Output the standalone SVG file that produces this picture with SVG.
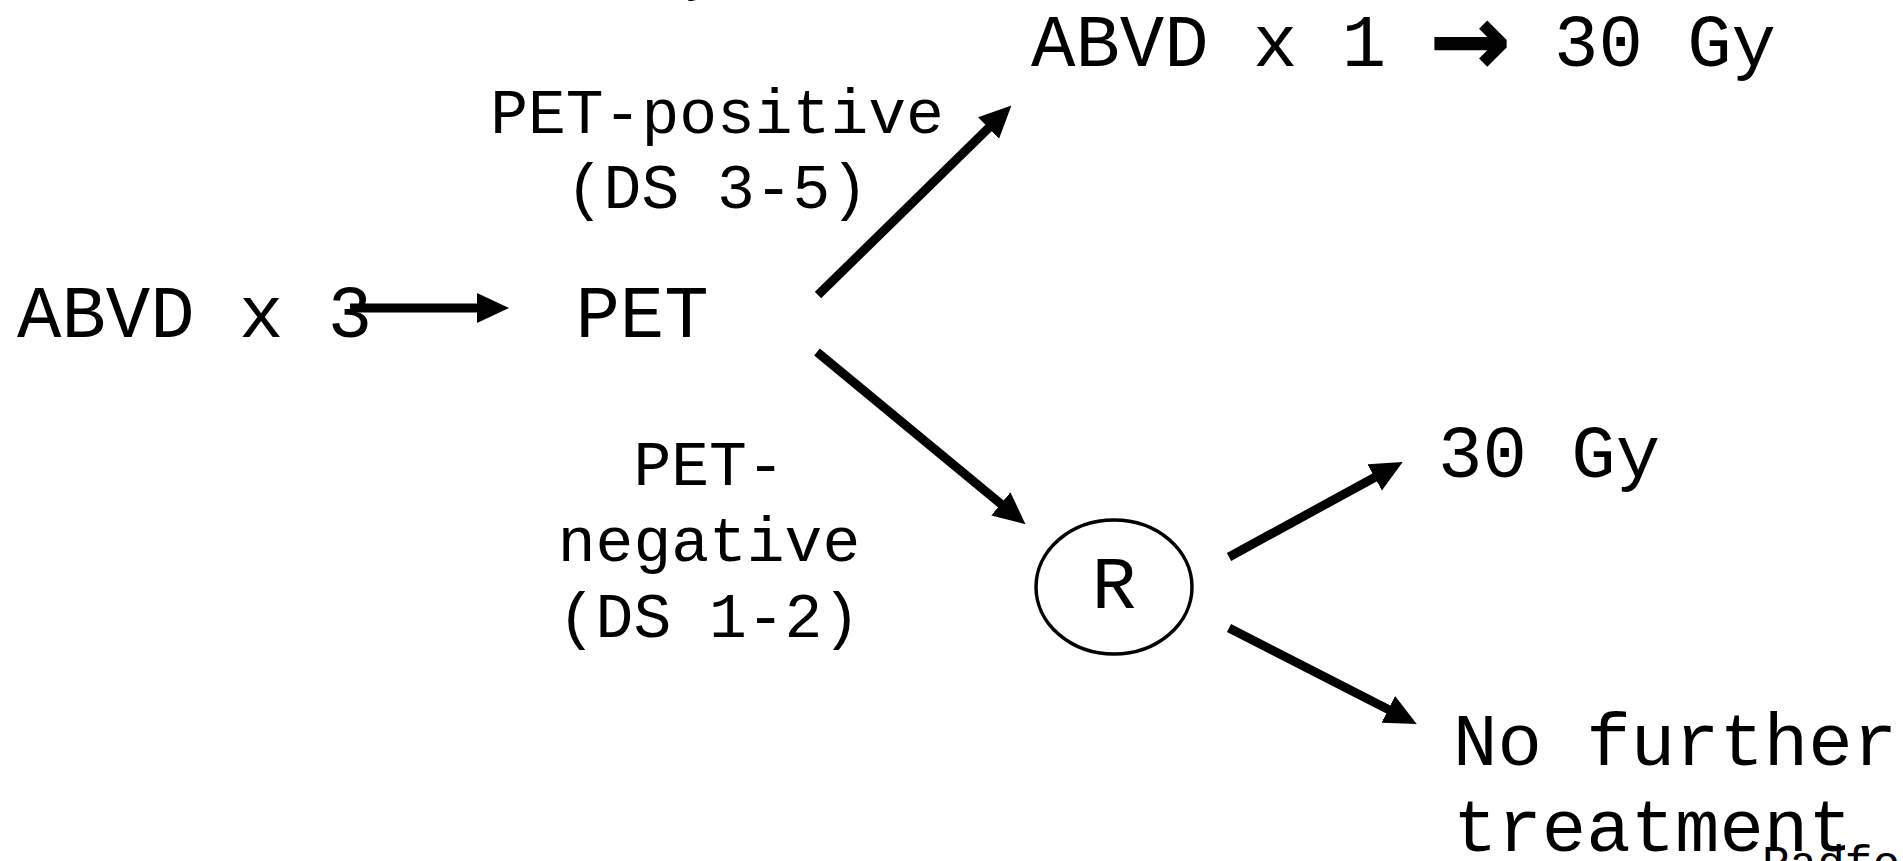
<svg xmlns="http://www.w3.org/2000/svg" width="1903" height="861" viewBox="0 0 1903 861">
  <style>
    .main { font-family: "Liberation Mono", "Courier New", monospace; font-size: 74px; fill: #000; }
    .lbl { font-family: "Liberation Mono", "Courier New", monospace; font-size: 63px; fill: #000; }
    .cite { font-family: "Liberation Mono", "Courier New", monospace; font-size: 46px; fill: #000; }
    .edge { stroke: #000; stroke-width: 9; fill: none; marker-end: url(#head); }
  </style>
  <defs>
    <marker id="head" viewBox="0 0 32 30" refX="15" refY="15" markerWidth="32" markerHeight="30" markerUnits="userSpaceOnUse" orient="auto">
      <path d="M0,0 L32,15 L0,30 Z" fill="#000"/>
    </marker>
  </defs>

  <rect width="1903" height="861" fill="#fff"/>

  <!-- cut-off heading glyph at the top edge -->
  <text class="lbl" x="683" y="-12">y</text>

  <g id="start">
    <text class="main" x="17" y="337">ABVD x 3</text>
  </g>

  <g id="pet">
    <text class="main" x="642" y="337" text-anchor="middle">PET</text>
  </g>

  <g id="pet-positive-label">
    <text class="lbl" x="717" y="133" text-anchor="middle">PET-positive</text>
    <text class="lbl" x="717" y="208" text-anchor="middle">(DS 3-5)</text>
  </g>

  <g id="pet-negative-label">
    <text class="lbl" x="709" y="485" text-anchor="middle">PET-</text>
    <text class="lbl" x="709" y="561" text-anchor="middle">negative</text>
    <text class="lbl" x="709" y="637" text-anchor="middle">(DS 1-2)</text>
  </g>

  <g id="abvd-rt">
    <text class="main" x="1031" y="66">ABVD x 1</text>
    <text x="1470" y="74" text-anchor="middle" font-family="DejaVu Sans, sans-serif" font-weight="bold" font-size="96" stroke="#000" stroke-width="2">→</text>
    <text class="main" x="1665" y="66" text-anchor="middle">30 Gy</text>
  </g>

  <g id="randomise">
    <ellipse cx="1114" cy="587" rx="78" ry="67" fill="none" stroke="#000" stroke-width="3.5"/>
    <text class="main" x="1114" y="608" text-anchor="middle">R</text>
  </g>

  <g id="rt-arm">
    <text class="main" x="1438" y="477">30 Gy</text>
  </g>

  <g id="no-treatment-arm">
    <text class="main" x="1453" y="765">No further</text>
    <text class="main" x="1453" y="851">treatment</text>
  </g>

  <g id="citation">
    <text class="cite" x="1762" y="878">Radfo</text>
  </g>

  <g id="connectors">
    <line class="edge" x1="350" y1="308" x2="492" y2="308"/>
    <line class="edge" x1="818" y1="295" x2="999.3" y2="117.5"/>
    <line class="edge" x1="817" y1="352" x2="1012.4" y2="513.4"/>
    <line class="edge" x1="1229" y1="557" x2="1387.8" y2="470.2"/>
    <line class="edge" x1="1229" y1="628" x2="1401.6" y2="716.2"/>
  </g>
</svg>
